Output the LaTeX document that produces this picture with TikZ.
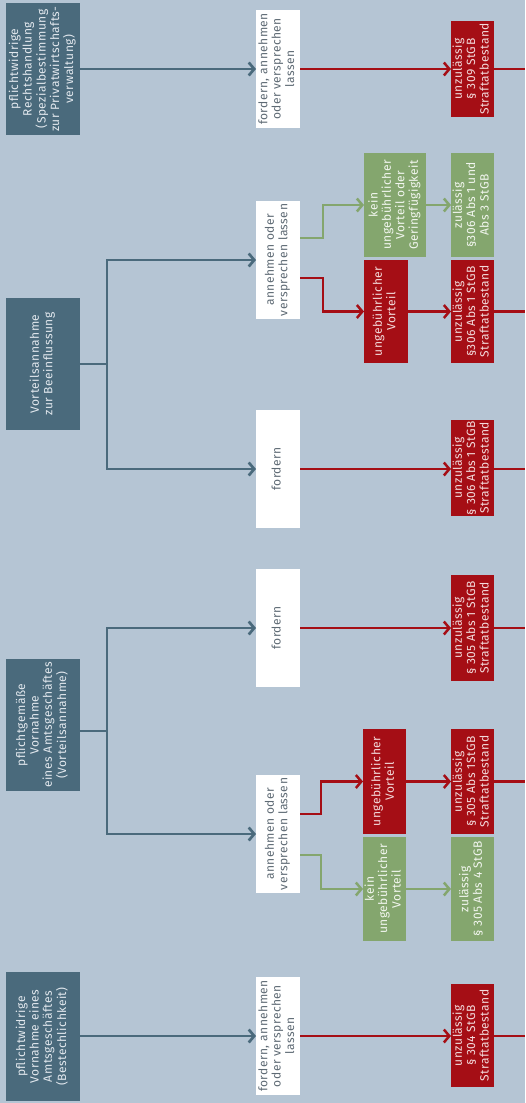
\documentclass[tikz,border=0pt]{standalone}
\usepackage{fontspec}
\setmainfont{Fira Sans}[LetterSpace=4]
\usepackage{graphicx}
\usetikzlibrary{arrows.meta}
\definecolor{bgc}{HTML}{B5C5D4}
\definecolor{slatec}{HTML}{4A6A7C}
\definecolor{slatetext}{HTML}{E2E8EE}
\definecolor{redc}{HTML}{A50E15}
\definecolor{redtext}{HTML}{F3DADB}
\definecolor{greenc}{HTML}{84A66E}
\definecolor{greentext}{HTML}{F2F6EF}
\definecolor{greytext}{HTML}{5E6A74}
\newcommand{\rt}[1]{\rotatebox{90}{\begin{tabular}{@{}c@{}}#1\end{tabular}}}
\begin{document}
\begin{tikzpicture}[x=1pt,y=-1pt,
  box/.style={inner sep=0pt, outer sep=0pt, anchor=center, font=\fontsize{12}{13.4}\selectfont},
  src/.style={box, fill=slatec, text=slatetext, minimum width=74pt, minimum height=132pt},
  act/.style={box, fill=white, text=greytext, minimum width=44pt, minimum height=118pt},
  bad/.style={box, fill=redc, text=redtext},
  ok/.style={box, fill=greenc, text=greentext},
  tipped/.style={-{Straight Barb[length=5.5pt,width=13pt]}},
  sline/.style={draw=slatec, line width=2.7pt},
  rline/.style={draw=redc, line width=2.5pt},
  gline/.style={draw=greenc, line width=2.5pt}]
\fill[bgc] (0,0) rectangle (525,1103);
\useasboundingbox (0,0) rectangle (525,1103);
\coordinate (E) at (525,0);
% source boxes
\node[src] (L1) at (43,69) {\rt{pflichtwidrige\\Rechtshandlung\\(Spezialbestimmung\\zur Privatwirtschafts-\\verwaltung)}};
\node[src] (L2) at (43,364) {\rt{Vorteilsannahme\\zur Beeinflussung}};
\node[src] (L3) at (43,725) {\rt{pflichtgemäße\\Vornahme\\eines Amtsgeschäftes\\(Vorteilsannahme)}};
\node[src, minimum height=129pt] (L4) at (43,1036.5) {\rt{pflichtwidrige\\Vornahme eines\\Amtsgeschäftes\\(Bestechlichkeit)}};
% action boxes
\node[act] (W1) at (278,69) {\rt{fordern, annehmen\\oder versprechen\\lassen}};
\node[act] (W2) at (278,260) {\rt{annehmen oder\\versprechen lassen}};
\node[act] (W3) at (278,469) {\rt{fordern}};
\node[act] (W4) at (278,628) {\rt{fordern}};
\node[act] (W5) at (278,834) {\rt{annehmen oder\\versprechen lassen}};
\node[act] (W6) at (278,1036) {\rt{fordern, annehmen\\oder versprechen\\lassen}};
% middle column
\node[ok, minimum width=62pt, minimum height=104pt] (G2) at (395,205) {\rt{kein\\ungebührlicher\\Vorteil oder\\Geringfügigkeit}};
\node[bad, minimum width=44pt, minimum height=103pt] (R2) at (386,311.5) {\rt{ungebührlicher\\Vorteil}};
\node[bad, minimum width=43pt, minimum height=105pt] (R5) at (384.5,781.5) {\rt{ungebührlicher\\Vorteil}};
\node[ok, minimum width=43pt, minimum height=104pt] (G5) at (384.5,889) {\rt{kein\\ungebührlicher\\Vorteil}};
% result column
\node[bad, minimum width=43pt, minimum height=96pt] (RR1) at (472.5,69) {\rt{unzulässig\\§ 309 StGB\\Straftatbestand}};
\node[ok, minimum width=43pt, minimum height=104pt] (GR2) at (472.5,205) {\rt{zulässig\\§306 Abs 1 und\\Abs 3 StGB}};
\node[bad, minimum width=43pt, minimum height=103pt] (RR2) at (472.5,311.5) {\rt{unzulässig\\§306 Abs 1 StGB\\Straftatbestand}};
\node[bad, minimum width=43pt, minimum height=96pt] (RR3) at (472.5,468) {\rt{unzulässig\\§ 306 Abs 1 StGB\\Straftatbestand}};
\node[bad, minimum width=43pt, minimum height=106pt] (RR4) at (472.5,628) {\rt{unzulässig\\§ 305 Abs 1 StGB\\Straftatbestand}};
\node[bad, minimum width=43pt, minimum height=105pt] (RR5) at (472.5,781.5) {\rt{unzulässig\\§ 305 Abs 1StGB\\Straftatbestand}};
\node[ok, minimum width=43pt, minimum height=104pt] (GR5) at (472.5,889) {\rt{zulässig\\§ 305 Abs 4 StGB}};
\node[bad, minimum width=43pt, minimum height=103pt] (RR6) at (472.5,1035.5) {\rt{unzulässig\\§ 304 StGB\\Straftatbestand}};
% row 1
\draw[sline, tipped] (L1.east) -- (W1.west);
\draw[rline, tipped] (W1.east) -- (RR1.west);
\draw[rline] (RR1.east) -- (RR1.east -| E);
% group 2
\coordinate (j2) at (107,364);
\draw[sline] (L2.east) -- (j2);
\draw[sline, tipped] (j2) |- (W2.west);
\draw[sline, tipped] (j2) |- (W3.west);
\draw[gline, tipped] ([yshift=22pt]W2.east) -- ++(23,0) |- (G2.west);
\draw[rline, tipped] ([yshift=-18pt]W2.east) -- ++(23,0) |- (R2.west);
\draw[gline, tipped] (G2.east) -- (GR2.west);
\draw[rline, tipped] (R2.east) -- (RR2.west);
\draw[rline] (RR2.east) -- (RR2.east -| E);
\draw[rline, tipped] (W3.east) -- (W3.east -| RR3.west);
\draw[rline] (RR3.east |- W3.east) -- (W3.east -| E);
% group 3
\coordinate (j3) at (107,731);
\draw[sline] (L3.east |- j3) -- (j3);
\draw[sline, tipped] (j3) |- (W4.west);
\draw[sline, tipped] (j3) |- (W5.west);
\draw[rline, tipped] (W4.east) -- (RR4.west);
\draw[rline] (RR4.east) -- (RR4.east -| E);
\draw[rline, tipped] ([yshift=20pt]W5.east) -- ++(21,0) |- (R5.west);
\draw[gline, tipped] ([yshift=-21pt]W5.east) -- ++(21,0) |- (G5.west);
\draw[rline, tipped] (R5.east) -- (RR5.west);
\draw[rline] (RR5.east) -- (RR5.east -| E);
\draw[gline, tipped] (G5.east) -- (GR5.west);
% row 4
\draw[sline, tipped] (L4.east |- W6.west) -- (W6.west);
\draw[rline, tipped] (W6.east) -- (W6.east -| RR6.west);
\draw[rline] (RR6.east |- W6.east) -- (W6.east -| E);
\end{tikzpicture}
\end{document}
